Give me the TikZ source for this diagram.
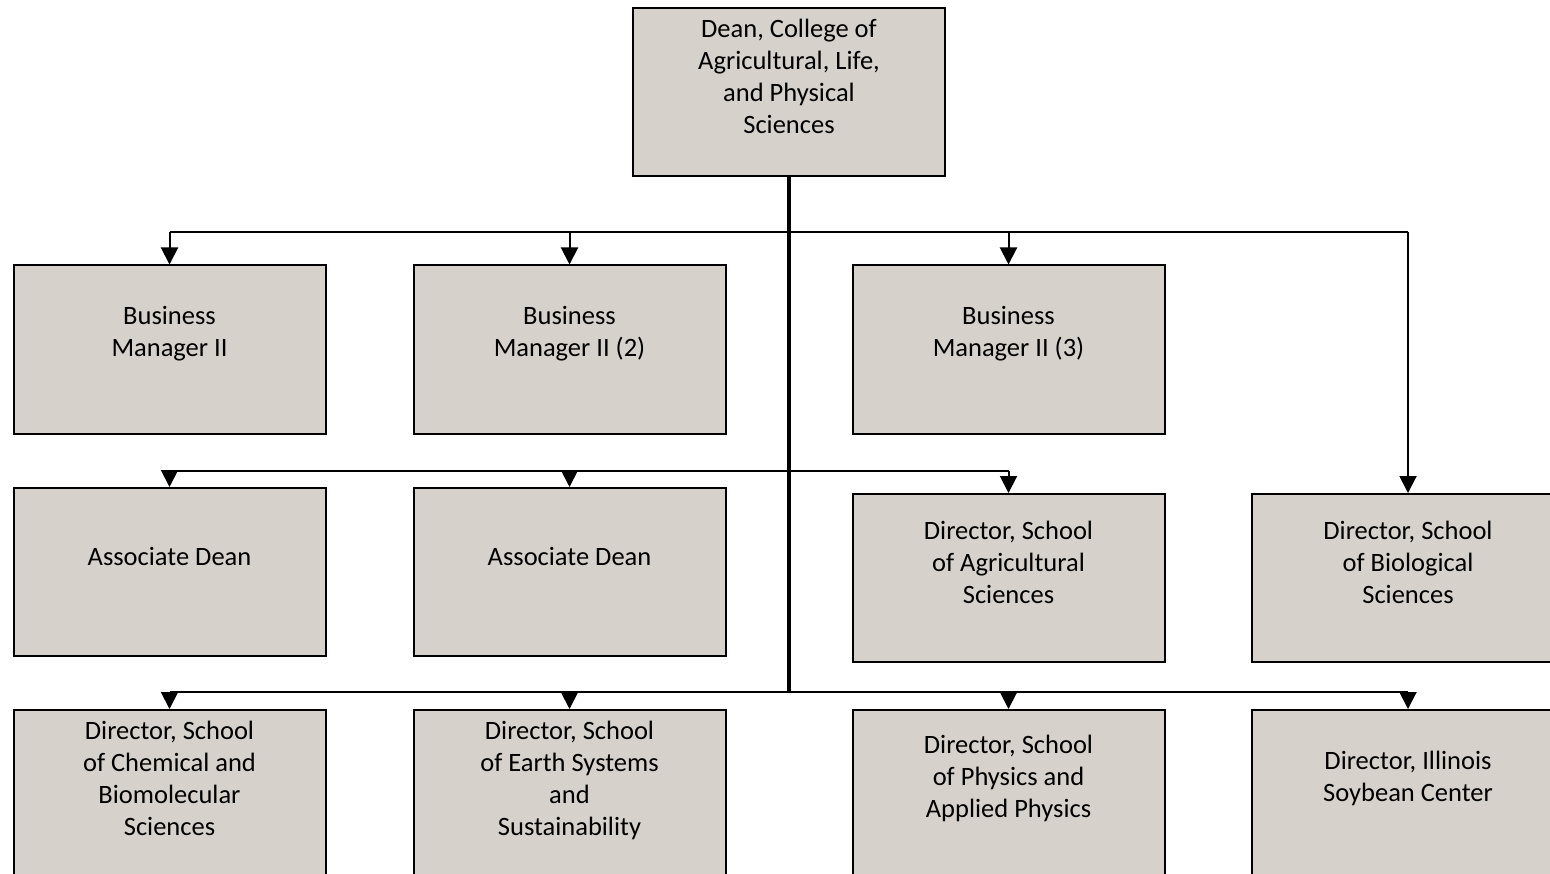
\documentclass[tikz,border=0pt]{standalone}
\usepackage{fontspec}
\setmainfont{Carlito}
\usetikzlibrary{arrows.meta}
\definecolor{boxfill}{RGB}{214,210,203}
\begin{document}
\begin{tikzpicture}[x=1pt,y=-1pt,
  box/.style={draw=black,fill=boxfill,line width=2pt,minimum width=312pt,minimum height=168pt,inner sep=0pt},
  txt/.style={align=center,font=\fontsize{26.5}{32}\selectfont,text=black,inner sep=0pt},
  conn/.style={line width=2pt},
  arr/.style={line width=2pt,-{Triangle[length=17pt,width=17pt]}},
  trunk/.style={line width=3.5pt}]
\useasboundingbox (0,0) rectangle (1550,874);
\clip (0,0) rectangle (1550,874);
% boxes
\node[box,label={[txt,yshift=16pt]center:{Dean, College of\\Agricultural, Life,\\and Physical\\Sciences}}] (dean) at (789,92) {};
\node[box,label={[txt,yshift=16pt]center:{Business\\Manager II}}] (bm1) at (169.5,349.5) {};
\node[box,label={[txt,yshift=16pt]center:{Business\\Manager II (2)}}] (bm2) at (569.5,349.5) {};
\node[box,label={[txt,yshift=16pt]center:{Business\\Manager II (3)}}] (bm3) at (1008.5,349.5) {};
\node[box,label={[txt,yshift=16pt]center:{Associate Dean}}] (ad1) at (169.5,572) {};
\node[box,label={[txt,yshift=16pt]center:{Associate Dean}}] (ad2) at (569.5,572) {};
\node[box,label={[txt,yshift=16pt]center:{Director, School\\of Agricultural\\Sciences}}] (agri) at (1008.5,578) {};
\node[box,label={[txt,yshift=16pt]center:{Director, School\\of Biological\\Sciences}}] (bio) at (1408,578) {};
\node[box,label={[txt,yshift=16pt]center:{Director, School\\of Chemical and\\Biomolecular\\Sciences}}] (chem) at (169.5,794) {};
\node[box,label={[txt,yshift=14pt]center:{Director, School\\of Earth Systems\\and\\Sustainability}}] (earth) at (569.5,794) {};
\node[box,label={[txt,yshift=16pt]center:{Director, School\\of Physics and\\Applied Physics}}] (phys) at (1008.5,794) {};
\node[box,label={[txt,yshift=16pt]center:{Director, Illinois\\Soybean Center}}] (soy) at (1408,794) {};
% bus coordinates
\coordinate (bus1) at (789,232);
\coordinate (bus2) at (789,471);
\coordinate (bus3) at (789,692);
% bus 1
\draw[conn] (bus1 -| bm1.north) -- (bus1 -| bio.north);
\draw[arr] (bus1 -| bm1.north) -- (bm1.north);
\draw[arr] (bus1 -| bm2.north) -- (bm2.north);
\draw[arr] (bus1 -| bm3.north) -- (bm3.north);
\draw[arr] (bus1 -| bio.north) -- (bio.north);
% bus 2
\draw[conn] (bus2 -| ad1.north) -- (bus2 -| agri.north);
\draw[arr] (bus2 -| ad1.north) -- (ad1.north);
\draw[arr] (bus2 -| ad2.north) -- (ad2.north);
\draw[arr] (bus2 -| agri.north) -- (agri.north);
% bus 3
\draw[conn] (bus3 -| chem.north) -- (bus3 -| soy.north);
\draw[arr] (bus3 -| chem.north) -- (chem.north);
\draw[arr] (bus3 -| earth.north) -- (earth.north);
\draw[arr] (bus3 -| phys.north) -- (phys.north);
\draw[arr] (bus3 -| soy.north) -- (soy.north);
% trunk
\draw[trunk] (dean.south) -- (bus3);
\end{tikzpicture}
\end{document}
